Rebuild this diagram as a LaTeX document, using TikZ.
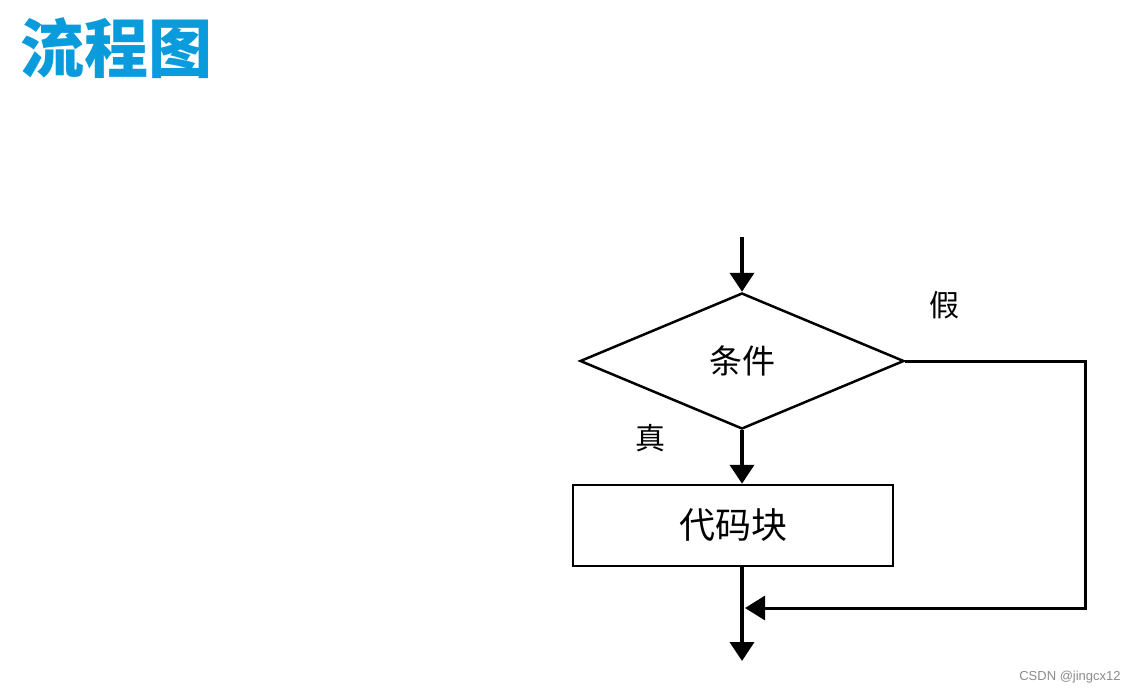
\documentclass[tikz,border=0pt]{standalone}
\usepackage{fontspec}
\newfontfamily\cjk{Noto Sans CJK SC}
\usetikzlibrary{shapes.geometric,arrows.meta}
\begin{document}
\begin{tikzpicture}[x=1pt,y=-1pt,
  flow/.style={line width=4pt,-{Triangle[width=24pt,length=19pt]}},
  outline/.style={draw=black,line width=2.5pt},
  lbl/.style={font=\cjk\fontsize{30}{30}\selectfont,inner sep=0pt},
]
\definecolor{titleblue}{RGB}{10,155,220}
\useasboundingbox[fill=white] (0,0) rectangle (1136,694);
\node[font=\cjk\bfseries\fontsize{64}{64}\selectfont,text=titleblue,inner sep=0pt] (title) at (116,48) {流程图};
\node[outline,diamond,minimum width=324pt,minimum height=136pt,inner sep=0pt,font=\cjk\fontsize{33}{33}\selectfont] (cond) at (742,361) {条件};
\node[outline,rectangle,minimum width=320pt,minimum height=81pt,inner sep=0pt,font=\cjk\fontsize{36}{36}\selectfont] (code) at (733,525.5) {代码块};
\node[lbl] (true) at (650,438) {真};
\node[lbl] (false) at (944,305) {假};
\coordinate (start) at (742,237);
\coordinate (end) at (742,661);
\coordinate (c1) at (1085,361);
\coordinate (c2) at (1085,608);
\coordinate (join) at (745,608);
\draw[flow] (start) -- (cond.north);
\draw[flow] (cond.south) -- (cond.south |- code.north);
\draw[flow] (code.south -| cond.south) -- (end);
\draw[line width=3pt,-{Triangle[width=24pt,length=20pt]}] (cond.east) -- (c1) -- (c2) -- (join);
\node[font=\fontspec{Liberation Sans}\fontsize{13}{13}\selectfont,text=black!45,inner sep=0pt] (wm) at (1070,677) {CSDN @jingcx12};
\end{tikzpicture}
\end{document}
